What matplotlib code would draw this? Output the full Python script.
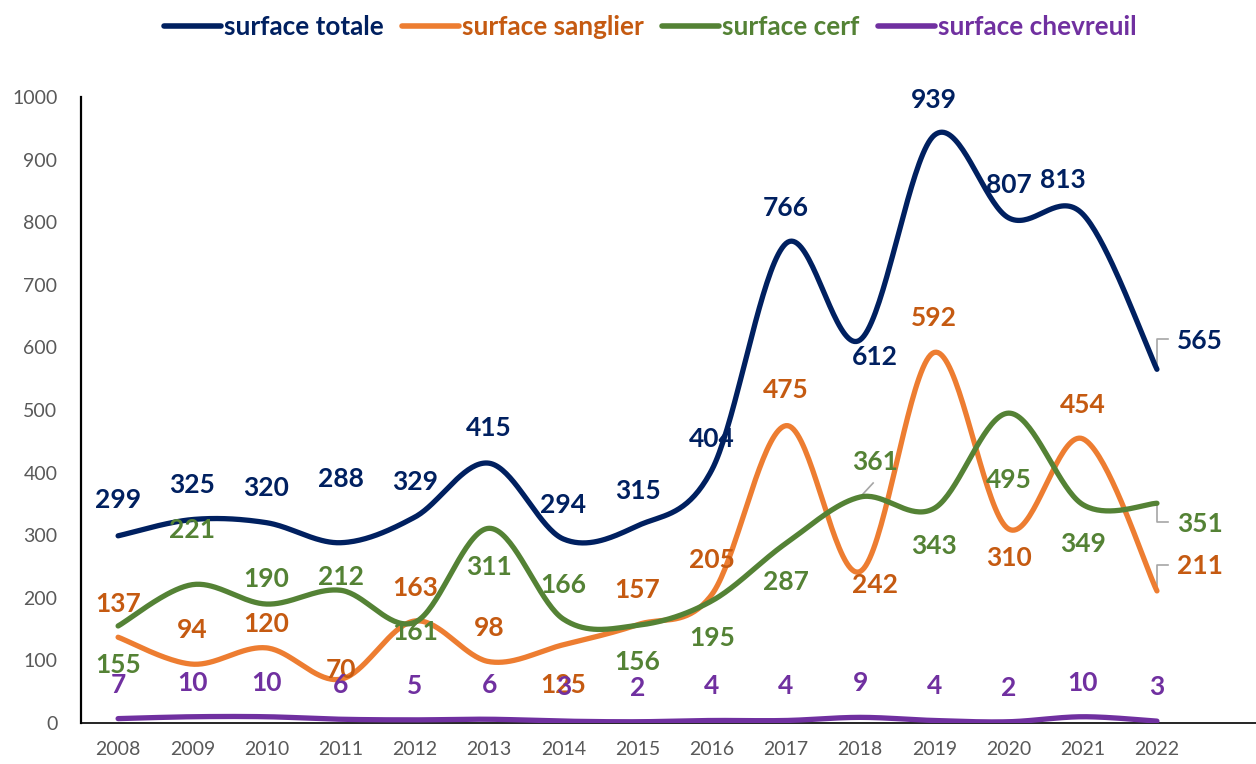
import numpy as np
import matplotlib
matplotlib.use("Agg")
import matplotlib.pyplot as plt
from matplotlib.lines import Line2D

# ---- data -------------------------------------------------------------
years = ["2008", "2009", "2010", "2011", "2012", "2013", "2014", "2015",
         "2016", "2017", "2018", "2019", "2020", "2021", "2022"]
surface_totale = [299, 325, 320, 288, 329, 415, 294, 315, 404, 766, 612, 939, 807, 813, 565]
surface_sanglier = [137, 94, 120, 70, 163, 98, 125, 157, 205, 475, 242, 592, 310, 454, 211]
surface_cerf = [155, 221, 190, 212, 161, 311, 166, 156, 195, 287, 361, 343, 495, 349, 351]
surface_chevreuil = [7, 10, 10, 6, 5, 6, 3, 2, 4, 4, 9, 4, 2, 10, 3]
series_names = ["surface totale", "surface sanglier", "surface cerf", "surface chevreuil"]
yticks = [0, 100, 200, 300, 400, 500, 600, 700, 800, 900, 1000]

# ---- style ------------------------------------------------------------
line_colors = ["#002060", "#ED7D31", "#548235", "#7030A0"]
text_colors = ["#002060", "#C55A11", "#548235", "#7030A0"]
FONT = "Lato"

# label offsets in pixels (dx, dy downward positive) relative to each point
off_totale = [(0, -36), (0, -35), (0, -35), (0, -64), (0, -35), (0, -35), (0, -34),
              (0, -35), (0, -31), (0, -35), (15, 17), (0, -35), (0, -33), (-20, -34), (43, -28)]
off_sanglier = [(0, -33), (0, -34), (0, -24), (0, -9), (0, -33), (0, -34), (0, 40),
                (0, -35), (0, -35), (0, -36), (15, 13), (0, -34), (0, 29), (0, -34), (43, -25)]
off_cerf = [(0, 39), (0, -55), (0, -25), (0, -13), (0, 10), (0, 39), (0, -34),
            (0, 37), (0, 37), (0, 39), (15, -35), (0, 38), (0, 67), (0, 39), (43, 21)]
off_chev = [(0, -34)] * len(years)


def smooth(xs, ys, n=40):
    """Cardinal (Catmull-Rom) smoothing through every point, like spreadsheet 'smoothed line'."""
    xs = np.asarray(xs, float)
    ys = np.asarray(ys, float)
    pts = np.column_stack([xs, ys])
    out = []
    m = len(pts)
    for i in range(m - 1):
        p0 = pts[max(i - 1, 0)]
        p1 = pts[i]
        p2 = pts[i + 1]
        p3 = pts[min(i + 2, m - 1)]
        c1 = p1 + (p2 - p0) / 6.0
        c2 = p2 - (p3 - p1) / 6.0
        t = np.linspace(0, 1, n)[:, None]
        seg = ((1 - t) ** 3) * p1 + 3 * ((1 - t) ** 2) * t * c1 + 3 * (1 - t) * t ** 2 * c2 + t ** 3 * p2
        if i > 0:
            seg = seg[1:]
        out.append(seg)
    out = np.vstack(out)
    return out[:, 0], out[:, 1]


W, H = 1256, 764
fig = plt.figure(figsize=(W / 100, H / 100), dpi=100)
ax = fig.add_axes([81 / W, (H - 723) / H, (W - 81) / W, (723 - 97) / H])

x = np.arange(len(years))
all_series = [surface_totale, surface_sanglier, surface_cerf, surface_chevreuil]
all_offsets = [off_totale, off_sanglier, off_cerf, off_chev]

for vals, lc, tc, offs in zip(all_series, line_colors, text_colors, all_offsets):
    sx, sy = smooth(x, vals)
    ax.plot(sx, sy, color=lc, lw=3.8, solid_capstyle="round", zorder=3)
    for xi, v, (dx, dy) in zip(x, vals, offs):
        ax.annotate(str(v), (xi, v), xytext=(dx, -dy), textcoords="offset pixels",
                    ha="center", va="center", color=tc, fontsize=19,
                    fontweight="bold", family=FONT, zorder=5)

# leader lines for the last points and the 2018 cerf label
grey = "#A6A6A6"
i_last = len(years) - 1
px_per_unit = (723 - 97) / 1000.0
px_per_step = 74.21


def leader(xi, v, dy_px):
    y_end = v - dy_px / px_per_unit
    x_end = xi + 11 / px_per_step
    ax.plot([xi, xi, x_end], [v, y_end, y_end], color=grey, lw=1.2, zorder=2)


leader(i_last, surface_totale[-1], -30)
leader(i_last, surface_cerf[-1], 19)
leader(i_last, surface_sanglier[-1], -26)
ax.plot([10, 10 + 13 / px_per_step], [surface_cerf[10], surface_cerf[10] + 14 / px_per_unit],
        color=grey, lw=1.2, zorder=2)

ax.set_xlim(-0.5, (W - 118) / px_per_step)
ax.set_ylim(0, 1000)
ax.set_xticks(x)
ax.set_xticklabels(years)
ax.set_yticks(yticks)
ax.tick_params(length=0, labelsize=14, labelcolor="#595959", pad=13)
ax.tick_params(axis="y", pad=17)
for lbl in ax.get_xticklabels() + ax.get_yticklabels():
    lbl.set_family(FONT)
ax.spines["top"].set_visible(False)
ax.spines["right"].set_visible(False)
ax.spines["left"].set_linewidth(1.6)
ax.spines["bottom"].set_linewidth(1.2)
ax.spines["left"].set_color("black")
ax.spines["bottom"].set_color("black")

handles = [Line2D([0], [0], color=c, lw=4, solid_capstyle="round") for c in line_colors]
leg = fig.legend(handles, series_names, loc="center", bbox_to_anchor=(650 / W, 1 - 27 / H),
                 ncol=4, frameon=False, handlelength=2.2, handletextpad=0.1,
                 columnspacing=0.7, labelcolor=text_colors,
                 prop={"family": FONT, "weight": "bold", "size": 18.8})

fig.savefig("out.png", dpi=100)
